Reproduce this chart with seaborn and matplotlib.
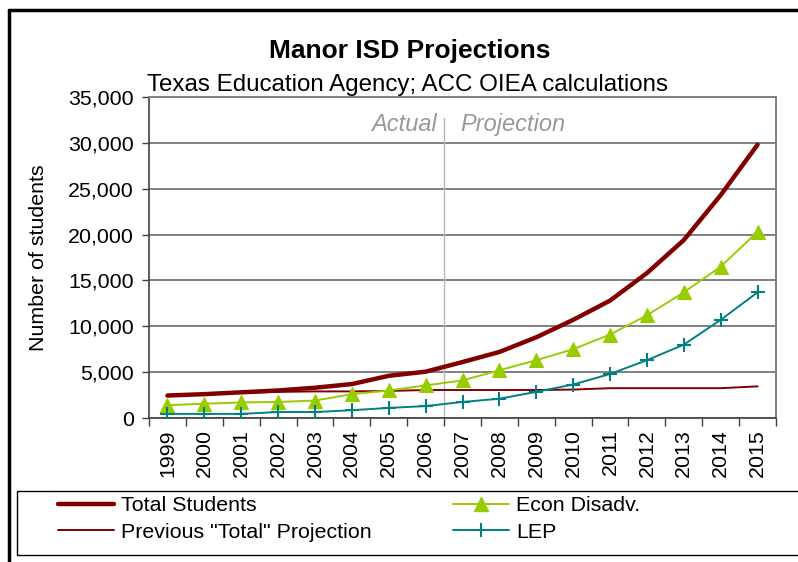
import matplotlib
matplotlib.use("Agg")
import matplotlib.pyplot as plt
from matplotlib.lines import Line2D
from matplotlib.patches import Rectangle
import seaborn as sns
import numpy as np

years = list(range(1999, 2016))
total_students = [2450, 2600, 2800, 3000, 3300, 3700, 4600, 5050, 6100, 7200, 8800,
                  10700, 12800, 15800, 19400, 24300, 29800]
previous_projection = [2450, 2600, 2750, 2850, 2900, 2900, 2950, 3050, 3050, 3050, 3050,
                       3100, 3250, 3250, 3250, 3250, 3450]
econ_disadv = [1400, 1550, 1700, 1750, 1900, 2600, 3000, 3550, 4100, 5200, 6300,
               7500, 9100, 11200, 13700, 16500, 20300]
lep = [450, 450, 450, 650, 650, 850, 1100, 1300, 1750, 2100, 2850,
       3650, 4800, 6300, 8000, 10700, 13700]
y_ticks = [0, 5000, 10000, 15000, 20000, 25000, 30000, 35000]

sns.set_theme(style="white")
plt.rcParams['font.family'] = ['Liberation Sans', 'DejaVu Sans']
plt.rcParams['text.color'] = 'black'
plt.rcParams['axes.labelcolor'] = 'black'
plt.rcParams['xtick.labelcolor'] = 'black'
plt.rcParams['ytick.labelcolor'] = 'black'

W, H = 798, 562
fig = plt.figure(figsize=(W / 100, H / 100), dpi=100)
ax = fig.add_axes([149 / W, 1 - 418 / H, (776 - 149) / W, (418 - 97) / H])

dark_red = "#800000"
green = "#99CC00"
teal = "#008080"
FS = 15.4

ax.axvline(2006.5, ymin=0, ymax=32700 / 35000, color="#b8b8b8", lw=1.0, zorder=1)

sns.lineplot(x=years, y=previous_projection, ax=ax, color=dark_red, lw=1.4, zorder=3)
sns.lineplot(x=years, y=total_students, ax=ax, color=dark_red, lw=3.2, zorder=4)
sns.lineplot(x=years, y=econ_disadv, ax=ax, color=green, lw=1.4, marker="^",
             markersize=9.5, markeredgecolor=green, zorder=5)
sns.lineplot(x=years, y=lep, ax=ax, color=teal, lw=1.4, marker="+",
             markersize=10, markeredgewidth=1.5, markeredgecolor=teal, zorder=6)

ax.set_xlim(1998.5, 2015.5)
ax.set_ylim(0, 35000)
ax.set_yticks(y_ticks)
ax.set_yticklabels([f"{v:,}" for v in y_ticks], fontsize=FS, color="black")
ax.set_xticks(years)
ax.set_xticklabels([str(y) for y in years], rotation=90, fontsize=FS, color="black")
ax.set_xticks(np.arange(1998.5, 2016, 1), minor=True)
ax.tick_params(axis="x", which="major", length=0, pad=8)
ax.tick_params(axis="x", which="minor", length=6, width=1, color="#404040", direction="out", bottom=True)
ax.tick_params(axis="y", length=5, width=1, color="#404040", direction="out", left=True, pad=6)
ax.grid(axis="y", color="#808080", lw=1.4)
ax.set_axisbelow(True)
for s in ["top", "right"]:
    ax.spines[s].set_color("#808080")
    ax.spines[s].set_linewidth(1.4)
for s in ["left", "bottom"]:
    ax.spines[s].set_color("#404040")
    ax.spines[s].set_linewidth(1.2)
ax.set_xlabel("")
ax.set_ylabel("Number of students", fontsize=FS, labelpad=14, color="black")

ax.text(2006.3, 32000, "Actual", ha="right", va="center", fontsize=17,
        style="italic", color="#999999")
ax.text(2006.95, 32000, "Projection", ha="left", va="center", fontsize=17,
        style="italic", color="#999999")

fig.text(410 / W, 1 - 51 / H, "Manor ISD Projections", ha="center", va="center",
         fontsize=19, fontweight="bold", color="black")
fig.text(147 / W, 1 - 85 / H, "Texas Education Agency; ACC OIEA calculations",
         ha="left", va="center", fontsize=17.4, color="black")

# outer frame
fig.add_artist(Line2D([9 / W, 9 / W], [0, 1 - 10 / H], color="black", lw=2.5,
                      transform=fig.transFigure))
fig.add_artist(Line2D([9 / W, 1], [1 - 10 / H, 1 - 10 / H], color="black", lw=2.5,
                      transform=fig.transFigure))

# legend box
fig.add_artist(Rectangle((17 / W, 1 - 555 / H), (820 - 17) / W, (555 - 491) / H,
                         transform=fig.transFigure, fill=False, edgecolor="black",
                         lw=1.0))

handles = [
    Line2D([], [], color=dark_red, lw=3.2),
    Line2D([], [], color=dark_red, lw=1.4),
    Line2D([], [], color=green, lw=1.4, marker="^", markersize=9.5),
    Line2D([], [], color=teal, lw=1.4, marker="+", markersize=10, markeredgewidth=1.5),
]
labels = ["Total Students", 'Previous "Total" Projection', "Econ Disadv.", "LEP"]
leg = fig.legend(handles, labels, loc="center left",
                 bbox_to_anchor=(58 / W, 1 - 519 / H), ncol=2, fontsize=FS,
                 frameon=False, handlelength=2.6, handletextpad=0.35,
                 columnspacing=3.8, borderaxespad=0, labelspacing=0.35,
                 borderpad=0)
for t in leg.get_texts():
    t.set_color("black")

fig.savefig("out.png", dpi=100)
